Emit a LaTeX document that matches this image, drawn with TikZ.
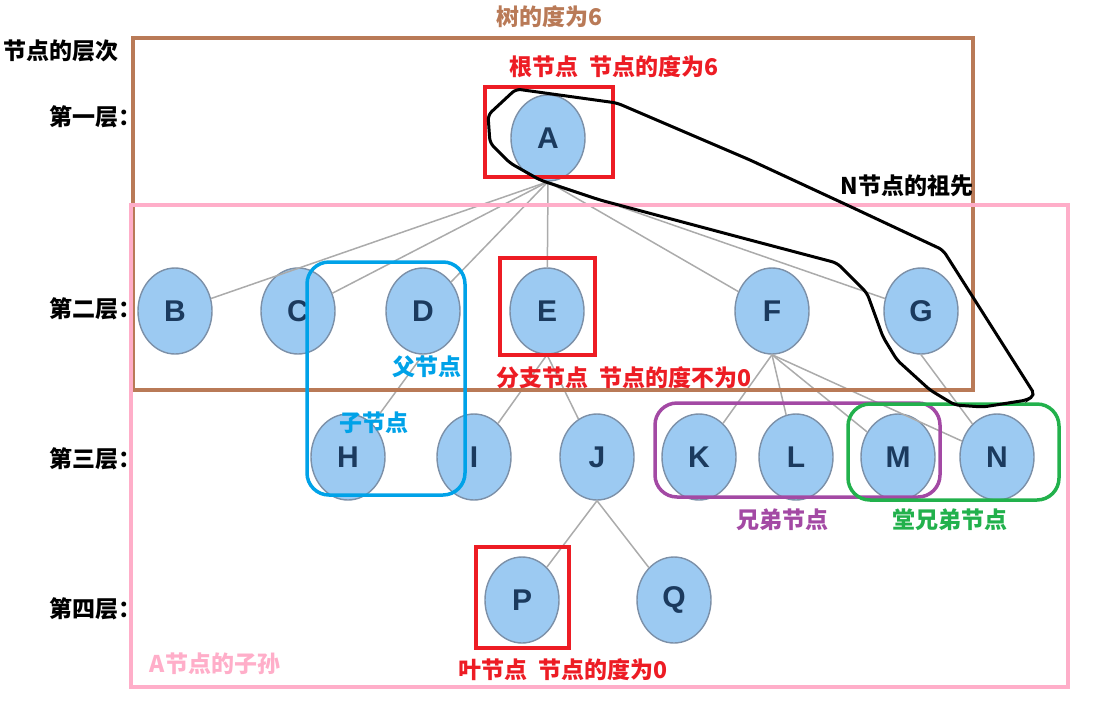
\documentclass[tikz,border=0pt]{standalone}
\usepackage{fontspec}
\setsansfont{Liberation Sans}
\newfontfamily\cjk{Noto Sans CJK SC}
\usepackage{tikz}
\usetikzlibrary{shapes.geometric}
\definecolor{nodefill}{HTML}{9CCAF2}
\definecolor{nodeline}{HTML}{7C90A8}
\definecolor{nodetxt}{HTML}{1B3A5E}
\definecolor{edgec}{HTML}{ABABAB}
\definecolor{brownc}{HTML}{B97A57}
\definecolor{pinkc}{HTML}{FFAEC9}
\definecolor{redc}{HTML}{ED1C24}
\definecolor{bluec}{HTML}{00A2E8}
\definecolor{purpc}{HTML}{A349A4}
\definecolor{greenc}{HTML}{22B14C}
\tikzset{
  nd/.style={ellipse,draw=nodeline,line width=1.4pt,fill=nodefill,minimum width=74pt,minimum height=86pt,inner sep=0pt,font=\sffamily\bfseries\fontsize{30}{30}\selectfont,text=nodetxt},
  ed/.style={edgec,line width=1.5pt},
  lbl/.style={font=\cjk\bfseries\fontsize{23}{23}\selectfont,inner sep=0pt},
  frame/.style={line width=4pt},
  hl/.style={line width=3.5pt,rounded corners=22pt}
}

\begin{document}
\begin{tikzpicture}[x=1pt,y=-1pt]
\useasboundingbox (0,0) rectangle (1098,705);
% tree
\foreach \n/\cx/\cy in {A/548/138,B/175/311,C/298/311,D/423/311,E/547/311,F/772/311,G/921/311,
  H/348/457,I/474/457,J/597/457,K/699/457,L/796/457,M/898/457,N/997/457,P/522/600,Q/674/600}
  \node[nd] (\n) at (\cx,\cy) {\n};
\foreach \p/\c in {A/B,A/C,A/D,A/E,A/F,A/G,D/H,E/I,E/J,F/K,F/L,F/M,F/N,G/N,J/P,J/Q}
  \draw[ed] (\p.south) -- (\c);
% levels
\node[lbl] (lvl) at (61,51) {节点的层次};
\foreach \k/\t/\cy in {l1/第一层：/117,l2/第二层：/309,l3/第三层：/459,l4/第四层：/609}
  \node[lbl,anchor=east] (\k) at (142,\cy) {\t};
% frames
\draw[frame,brownc] (133,38) rectangle (973,390);
\node[lbl,brownc] (tdeg) at (549,17) {树的度为6};
\draw[frame,pinkc] (131,205) rectangle (1068,687);
\node[lbl,pinkc] (desc) at (215,664) {A节点的子孙};
% red marks
\draw[line width=3.5pt,redc] (485,87) rectangle (613,177);
\node[lbl,redc] (root) at (614,67) {根节点\ \ 节点的度为6};
\draw[line width=3.5pt,redc] (500,258) rectangle (595,355);
\node[lbl,redc] (branch) at (624,378) {分支节点\ \ 节点的度不为0};
\draw[line width=3.5pt,redc] (476,547) rectangle (569,648);
\node[lbl,redc] (leaf) at (563,670) {叶节点\ \ 节点的度为0};
% parent / child
\draw[hl,bluec] (307,262) rectangle (465,495);
\node[lbl,bluec] (par) at (427,367) {父节点};
\node[lbl,bluec] (chd) at (374,423) {子节点};
% siblings
\draw[hl,purpc] (655,403) rectangle (940,497);
\node[lbl,purpc] (sib) at (782,520) {兄弟节点};
\draw[hl,greenc] (848,404) rectangle (1059,500);
\node[lbl,greenc] (cous) at (950,520) {堂兄弟节点};
% ancestors
\draw[line width=3pt,rounded corners=5pt] (516,89) -- (617,103) -- (750,160) -- (847,205) -- (943,250)
  -- (1035,395) -- (1027,400) -- (983,407) -- (955,405) -- (930,390) -- (897,360) -- (883,337)
  -- (867,293) -- (837,263) -- (750,240) -- (600,200) -- (540,180) -- (510,163) -- (490,143)
  -- (488,115) -- cycle;
\node[lbl] (anc) at (907,186) {N节点的祖先};
\end{tikzpicture}
\end{document}
